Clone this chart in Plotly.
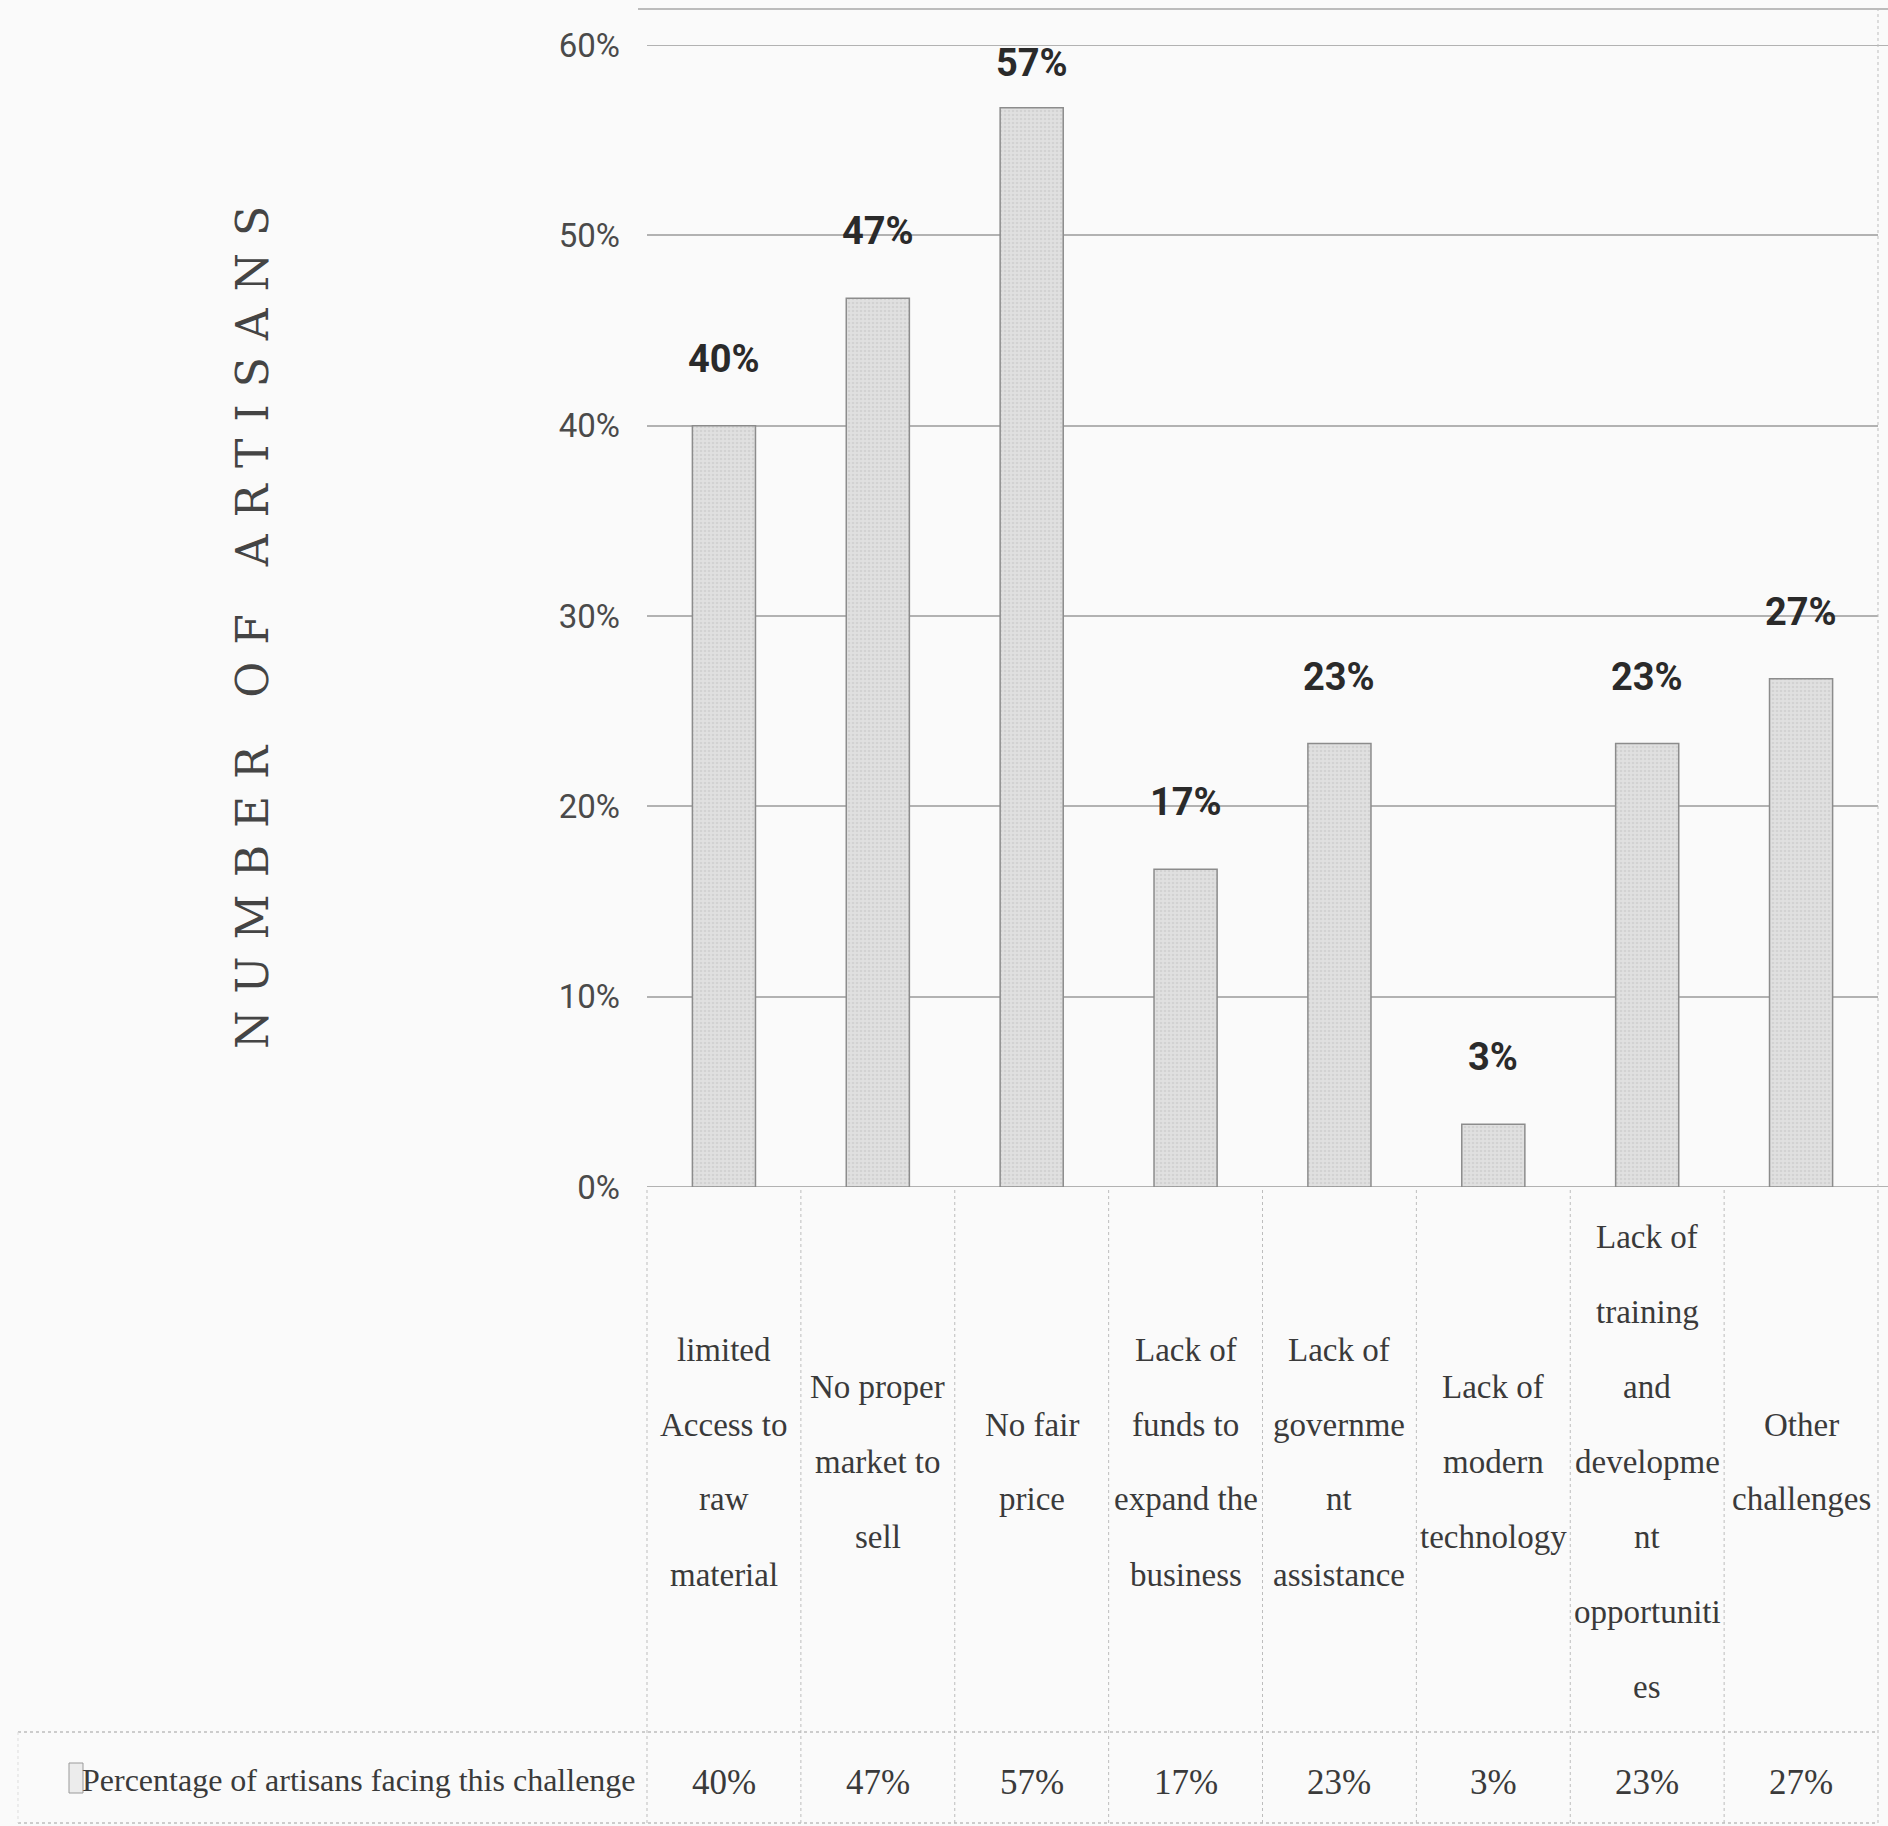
import plotly.graph_objects as go

# ---- data ----
categories = ["limited Access to raw material", "No proper market to sell", "No fair price",
              "Lack of funds to expand the business", "Lack of government assistance",
              "Lack of modern technology", "Lack of training and development opportunities",
              "Other challenges"]
category_lines = [
    ["limited", "Access to", "raw", "material"],
    ["No proper", "market to", "sell"],
    ["No fair", "price"],
    ["Lack of", "funds to", "expand the", "business"],
    ["Lack of", "governme", "nt", "assistance"],
    ["Lack of", "modern", "technology"],
    ["Lack of", "training", "and", "developme", "nt", "opportuniti", "es"],
    ["Other", "challenges"],
]
values = [40.0, 46.7, 56.7, 16.7, 23.3, 3.3, 23.3, 26.7]  # percent of artisans
value_labels = ["40%", "47%", "57%", "17%", "23%", "3%", "23%", "27%"]
series_name = "Percentage of artisans facing this challenge"
y_ticks = [0, 10, 20, 30, 40, 50, 60]
y_ticktext = ["0%", "10%", "20%", "30%", "40%", "50%", "60%"]
y_title = "NUMBER OF ARTISANS"

# ---- layout geometry ----
W, H = 1888, 1826
L, R, T, B = 647, 10, 45, 639
PW, PH = W - L - R, H - T - B
base_px = T + PH  # pixel row of 0%
n = len(categories)

def py(p):  # pixel row -> paper y
    return (base_px - p) / PH

def px(p):  # pixel col -> paper x
    return (p - L) / PW

ink = "#3a3a3a"
grid = "#b2b2b2"
cell = "#bdbdbd"
narrow = "Liberation Sans Narrow, Arial Narrow, Roboto, sans-serif"
serif = "Liberation Serif, Times New Roman, serif"

fig = go.Figure()
fig.add_trace(go.Bar(
    x=list(range(n)), y=values, name=series_name,
    marker=dict(color="#dadada", line=dict(color="#8c8c8c", width=1.5),
                pattern=dict(shape=".", fgcolor="#c4c4c4", bgcolor="#e0e0e0", size=4, solidity=0.35)),
    width=0.41, showlegend=False, hoverinfo="skip",
))

annotations = []
# data labels above bars
for i, (v, lab) in enumerate(zip(values, value_labels)):
    top_px = T + (60 - v) / 60 * PH
    shift = min(67, top_px - 63)
    annotations.append(dict(x=i, y=v, xref="x", yref="y", text=lab, showarrow=False,
                            yanchor="middle", yshift=shift,
                            font=dict(family=narrow, size=38, color="#2a2a2a", weight="bold")))

# category label lines in the table
for i, lines in enumerate(category_lines):
    k = len(lines)
    for j, line in enumerate(lines):
        yc = 1462 + (j - (k - 1) / 2) * 75
        annotations.append(dict(x=i, y=py(yc), xref="x", yref="paper", text=line,
                                showarrow=False, yanchor="middle",
                                font=dict(family=serif, size=33, color=ink)))

# value row
for i, lab in enumerate(value_labels):
    annotations.append(dict(x=i, y=py(1782), xref="x", yref="paper", text=lab, showarrow=False,
                            yanchor="middle", font=dict(family=serif, size=35, color=ink)))
annotations.append(dict(x=px(638), y=py(1780), xref="paper", yref="paper", text=series_name,
                        showarrow=False, xanchor="right", yanchor="middle",
                        font=dict(family=serif, size=32, color=ink)))

# y axis title
annotations.append(dict(x=px(252), y=py(619), xref="paper", yref="paper",
                        text='<span style="letter-spacing:17px">' + y_title + "</span>",
                        showarrow=False, textangle=-90, xanchor="center", yanchor="middle",
                        font=dict(family="DejaVu Serif, Liberation Serif, serif", size=44, color="#444444")))

shapes = []
# gridlines at the range edges (0% and 60%)
for yv in (y_ticks[0], y_ticks[-1]):
    shapes.append(dict(type="line", xref="paper", yref="y", x0=0, x1=1 + 10 / PW, y0=yv, y1=yv,
                       line=dict(color=grid, width=2), layer="below"))
# vertical cell borders of the table
for i in range(n + 1):
    x = i / n
    y1 = py(8) if i == n else 0
    shapes.append(dict(type="line", xref="paper", yref="paper", x0=x, x1=x, y0=py(1823), y1=y1,
                       line=dict(color=cell, width=1, dash="dot")))
# horizontal table lines
shapes.append(dict(type="line", xref="paper", yref="paper", x0=px(18), x1=1, y0=py(1732), y1=py(1732),
                   line=dict(color=cell, width=1.5, dash="dot")))
shapes.append(dict(type="line", xref="paper", yref="paper", x0=px(18), x1=1, y0=py(1823), y1=py(1823),
                   line=dict(color=cell, width=1.5, dash="dot")))
shapes.append(dict(type="line", xref="paper", yref="paper", x0=px(18), x1=px(18), y0=py(1732), y1=py(1823),
                   line=dict(color="#dddddd", width=1, dash="dot")))
# top border line
shapes.append(dict(type="line", xref="paper", yref="paper", x0=px(638), x1=px(1888), y0=py(9), y1=py(9),
                   line=dict(color="#bcbcbc", width=2)))
# legend key square
shapes.append(dict(type="rect", xref="paper", yref="paper", x0=px(69), x1=px(83), y0=py(1793), y1=py(1763),
                   line=dict(color="#9a9a9a", width=1), fillcolor="#ececec"))

fig.update_layout(
    width=W, height=H,
    margin=dict(l=L, r=R, t=T, b=B, pad=0),
    paper_bgcolor="#fafafa", plot_bgcolor="#fafafa",
    bargap=0.59,
    xaxis=dict(range=[-0.5, n - 0.5], showticklabels=False, showgrid=False, zeroline=False,
               showline=False, ticks="", fixedrange=True),
    yaxis=dict(range=[0, 60], tickvals=y_ticks, ticktext=y_ticktext, showgrid=True,
               gridcolor=grid, gridwidth=2, zeroline=False, showline=False,
               ticks="", ticklabelstandoff=26,
               tickfont=dict(family=narrow, size=33, color="#4a4a4a")),
    annotations=annotations, shapes=shapes,
)

fig.write_html("out.html")
